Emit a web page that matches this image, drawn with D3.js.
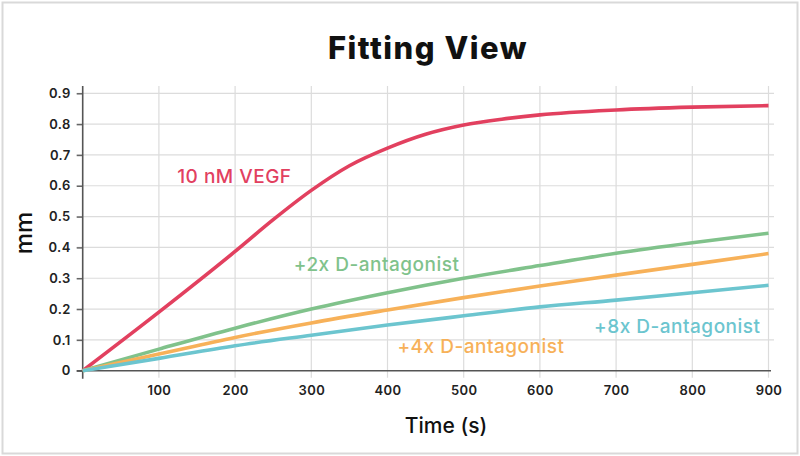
<!DOCTYPE html>
<html>
<head>
<meta charset="utf-8">
<script src="https://cdn.jsdelivr.net/npm/d3@7"></script>
<style>
  html, body { margin: 0; padding: 0; background: #fff; }
  svg { display: block; font-family: "Inter", "Noto Sans", sans-serif; }
</style>
</head>
<body>
<svg id="chart" width="800" height="456"></svg>
<script>
// ---- data ----
const title = "Fitting View";
const xLabel = "Time (s)";
const yLabel = "mm";
const xTicks = [100, 200, 300, 400, 500, 600, 700, 800, 900];
const yTicks = [0, 0.1, 0.2, 0.3, 0.4, 0.5, 0.6, 0.7, 0.8, 0.9];

const vegfTime   = [0, 100, 200, 250, 300, 350, 400, 450, 500, 550, 600, 700, 800, 900];
const vegfValues = [0, 0.19, 0.387, 0.49, 0.585, 0.665, 0.722, 0.767, 0.797, 0.816, 0.83, 0.846, 0.855, 0.86];

const antTime    = [0, 100, 200, 300, 400, 500, 600, 700, 800, 900];
const ant2Values = [0, 0.07, 0.138, 0.2, 0.253, 0.3, 0.341, 0.381, 0.415, 0.446];
const ant4Values = [0, 0.054, 0.108, 0.155, 0.197, 0.237, 0.275, 0.31, 0.345, 0.38];
const ant8Values = [0, 0.04, 0.081, 0.115, 0.148, 0.178, 0.207, 0.229, 0.253, 0.277];

const seriesNames  = ["10 nM VEGF", "+2x D-antagonist", "+4x D-antagonist", "+8x D-antagonist"];
const seriesColors = ["#e2405f", "#80c28b", "#f7b159", "#6cc5cf"];
// label anchor positions in data units (time, mm)
const labelTime = [124, 277, 413, 671];
const labelMM   = [0.61, 0.322, 0.056, 0.122];

const series = [
  { name: seriesNames[0], color: seriesColors[0], t: vegfTime, v: vegfValues },
  { name: seriesNames[1], color: seriesColors[1], t: antTime, v: ant2Values },
  { name: seriesNames[2], color: seriesColors[2], t: antTime, v: ant4Values },
  { name: seriesNames[3], color: seriesColors[3], t: antTime, v: ant8Values }
];

// ---- layout ----
const svg = d3.select("#chart");
const W = 800, H = 456;
const m = { left: 82.7, right: 800 - 768.5, top: 88, bottom: 456 - 370.7 };

const x = d3.scaleLinear().domain([0, 900]).range([m.left, W - m.right]);
const y = d3.scaleLinear().domain([0, 0.9]).range([H - m.bottom, 93.3]);

// outer frame
svg.append("rect")
  .attr("x", 2.5).attr("y", 2.5).attr("width", W - 5).attr("height", H - 5)
  .attr("fill", "#fff").attr("stroke", "#d9d9d9").attr("stroke-width", 2);

// title
svg.append("text")
  .attr("x", 428).attr("y", 59)
  .attr("text-anchor", "middle")
  .attr("font-size", 31).attr("font-weight", 800).attr("fill", "#111")
  .attr("letter-spacing", 1.5)
  .text(title);

// grid: vertical
const gx = svg.append("g").attr("class", "grid-x");
gx.selectAll("line").data(xTicks).join("line")
  .attr("x1", d => x(d)).attr("x2", d => x(d))
  .attr("y1", 86).attr("y2", y(0) + 7)
  .attr("stroke", "#dcdcdc").attr("stroke-width", 1.2);

// grid: horizontal
const gy = svg.append("g").attr("class", "grid-y");
gy.selectAll("line").data(yTicks.filter(d => d > 0)).join("line")
  .attr("x1", m.left - 6).attr("x2", 774)
  .attr("y1", d => y(d)).attr("y2", d => y(d))
  .attr("stroke", "#dcdcdc").attr("stroke-width", 1.2);

// y axis
const yAxis = d3.axisLeft(y).tickValues(yTicks)
  .tickFormat(d => d === 0 ? "0" : d3.format(".1f")(d))
  .tickSize(6).tickPadding(6);
const yg = svg.append("g").attr("transform", `translate(${m.left},0)`).call(yAxis);
yg.select(".domain").remove();
yg.selectAll(".tick line").attr("stroke", "#666").attr("stroke-width", 1.5);
yg.selectAll(".tick text").attr("font-size", 13).attr("font-weight", 600)
  .attr("fill", "#222").attr("font-family", "Inter, sans-serif").attr("letter-spacing", 0.4);

// x axis labels
const xAxis = d3.axisBottom(x).tickValues(xTicks).tickSize(0).tickPadding(15);
const xg = svg.append("g").attr("transform", `translate(0,${y(0)})`).call(xAxis);
xg.select(".domain").remove();
xg.selectAll(".tick text").attr("font-size", 13).attr("font-weight", 600)
  .attr("fill", "#222").attr("font-family", "Inter, sans-serif").attr("letter-spacing", 0.4);

// axis lines
svg.append("line")
  .attr("x1", m.left).attr("x2", m.left).attr("y1", 86).attr("y2", y(0) + 8)
  .attr("stroke", "#555").attr("stroke-width", 1.6);
svg.append("line")
  .attr("x1", m.left - 6).attr("x2", 771).attr("y1", y(0)).attr("y2", y(0))
  .attr("stroke", "#555").attr("stroke-width", 1.6);

// lines
const line = d3.line().curve(d3.curveMonotoneX);
svg.append("g").selectAll("path").data(series).join("path")
  .attr("d", s => line(s.t.map((t, i) => [x(t), y(s.v[i])])))
  .attr("fill", "none")
  .attr("stroke", s => s.color)
  .attr("stroke-width", 3.6)
  .attr("stroke-linecap", "butt");

// series labels
svg.append("g").selectAll("text").data(series).join("text")
  .attr("x", (s, i) => x(labelTime[i]))
  .attr("y", (s, i) => y(labelMM[i]))
  .attr("font-size", 19).attr("font-weight", 500)
  .attr("letter-spacing", 0.5)
  .attr("fill", s => s.color)
  .text(s => s.name);

// axis titles
svg.append("text")
  .attr("x", 446).attr("y", 433)
  .attr("text-anchor", "middle")
  .attr("font-size", 21).attr("font-weight", 500).attr("fill", "#111")
  .text(xLabel);

svg.append("text")
  .attr("transform", "translate(32,233) rotate(-90)")
  .attr("text-anchor", "middle")
  .attr("font-size", 24).attr("font-weight", 500).attr("fill", "#111")
  .text(yLabel);
</script>
</body>
</html>
